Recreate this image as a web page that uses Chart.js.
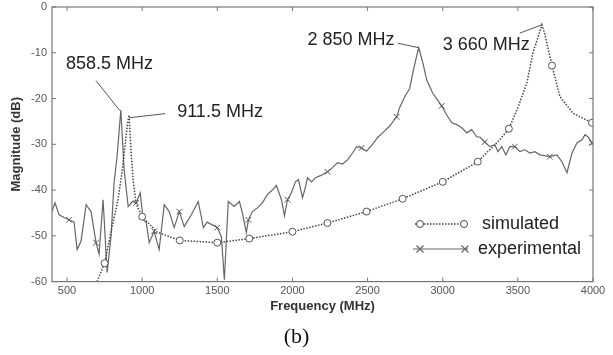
<!DOCTYPE html>
<html>
<head>
<meta charset="utf-8">
<script src="https://cdn.jsdelivr.net/npm/chart.js@4.4.1/dist/chart.umd.min.js"></script>
<style>
  html, body { margin: 0; padding: 0; background: #fff; }
</style>
</head>
<body>
<canvas id="grafico" width="613" height="355"></canvas>
<script>
// eixos
const xTicks = [500, 1000, 1500, 2000, 2500, 3000, 3500, 4000];
const yTicks = [0, -10, -20, -30, -40, -50, -60];

// simulado (pontilhado, círculos)
const simFreq = [700, 750, 800, 840, 870, 890, 905, 913, 925, 940, 960, 1000, 1100, 1250, 1500, 1713, 2000, 2233, 2493, 2733, 3000, 3233, 3380, 3440, 3500, 3560, 3600, 3630, 3660, 3680, 3693, 3727, 3780, 3867, 3993];
const simDb = [-60, -56, -48, -42, -35, -29, -25, -23.6, -31, -38, -43, -45.8, -49.2, -51, -51.5, -50.6, -49.1, -47.2, -44.7, -41.9, -38.2, -33.8, -29, -26.6, -22, -16.6, -10, -7, -3.9, -6, -7.9, -12.8, -19.6, -23.2, -25.3];
const simMarks = [750, 1000, 1250, 1500, 1713, 2000, 2233, 2493, 2733, 3000, 3233, 3440, 3727, 3993];

// experimental (linha cheia, cruzes)
const expFreq = [400, 420, 447, 480, 513, 547, 567, 593, 627, 660, 693, 713, 740, 760, 767, 793, 813, 833, 858, 880, 907, 935, 960, 987, 1007, 1027, 1047, 1080, 1113, 1147, 1180, 1213, 1247, 1280, 1327, 1373, 1407, 1433, 1460, 1500, 1527, 1547, 1573, 1613, 1647, 1667, 1693, 1707, 1733, 1767, 1800, 1833, 1867, 1893, 1927, 1947, 1967, 1993, 2020, 2040, 2067, 2087, 2100, 2127, 2153, 2190, 2233, 2267, 2300, 2333, 2367, 2400, 2427, 2460, 2493, 2533, 2567, 2600, 2647, 2693, 2713, 2747, 2780, 2810, 2840, 2870, 2893, 2933, 2993, 3027, 3060, 3093, 3127, 3160, 3193, 3227, 3247, 3280, 3313, 3347, 3367, 3393, 3420, 3447, 3480, 3513, 3547, 3580, 3613, 3647, 3713, 3760, 3793, 3827, 3860, 3893, 3927, 3947, 3967, 3993];
const expDb = [-44.7, -42.8, -45.4, -46, -46.5, -47, -53, -51.2, -43.2, -44.7, -51.5, -54, -42.1, -54, -58, -50, -38.4, -32.7, -22.5, -35.6, -43.6, -42.5, -42.8, -40.6, -46.5, -47.1, -51.5, -49, -53, -43.2, -44.7, -48.2, -44.7, -48, -45.4, -42.5, -48.2, -47, -47.5, -48.2, -50.2, -59.6, -42.5, -43.6, -42.5, -45, -49.3, -46.5, -44.7, -43.9, -42.8, -41, -40, -39, -42.1, -45.6, -42.1, -40.6, -38.2, -37.7, -41.7, -39.3, -37.3, -38.2, -37.3, -36.8, -36, -35.1, -34, -34.3, -33.4, -31.9, -30.5, -30.8, -31.5, -30, -28.5, -27.5, -26, -24, -22, -19.6, -17.8, -13, -8.9, -12.5, -15.9, -18.8, -21.6, -23.6, -25.3, -25.7, -26.4, -27.5, -26.8, -28.4, -28.4, -29.5, -30.5, -30.1, -31.6, -30.5, -32.3, -30.5, -30.5, -31.6, -31.2, -31.9, -31.6, -32.3, -32.7, -32.3, -33.8, -36.2, -31.9, -29.7, -29, -27.9, -28.4, -29.7];
const expMarks = [513, 693, 960, 1080, 1247, 1500, 1707, 1967, 2233, 2460, 2693, 2993, 3280, 3480, 3713, 3993];

// anotações dos picos: texto + linha de chamada (coordenadas em MHz / dB)
const notas = [
  { texto: "858.5 MHz", x: 493, y: -12.4, de: [693, -16.1], ate: [853, -22.7] },
  { texto: "911.5 MHz", x: 1233, y: -22.9, de: [1153, -23.3], ate: [913, -24.2] },
  { texto: "2 850 MHz", x: 2100, y: -7.2, de: [2700, -7.9], ate: [2840, -8.9] },
  { texto: "3 660 MHz", x: 3000, y: -8.3, de: [3513, -5.7], ate: [3660, -3.9] }
];

const toXY = (fs, vs) => fs.map((f, i) => ({ x: f, y: vs[i] }));

function desenhaCirculo(ctx, x, y) {
  ctx.beginPath();
  ctx.arc(x, y, 3.5, 0, Math.PI * 2);
  ctx.fillStyle = "#fff";
  ctx.fill();
  ctx.stroke();
}
function desenhaX(ctx, x, y) {
  const r = 3.5;
  ctx.beginPath();
  ctx.moveTo(x - r, y - r); ctx.lineTo(x + r, y + r);
  ctx.moveTo(x - r, y + r); ctx.lineTo(x + r, y - r);
  ctx.stroke();
}

const extras = {
  id: "extras",
  afterDraw(chart) {
    const { ctx, chartArea: a, scales: { x, y } } = chart;
    ctx.save();
    // caixa e ticks internos
    ctx.strokeStyle = "#777";
    ctx.lineWidth = 1.2;
    ctx.strokeRect(a.left, a.top, a.right - a.left, a.bottom - a.top);
    ctx.lineWidth = 1;
    ctx.beginPath();
    xTicks.forEach(v => {
      const px = x.getPixelForValue(v);
      ctx.moveTo(px, a.bottom); ctx.lineTo(px, a.bottom - 4);
      ctx.moveTo(px, a.top); ctx.lineTo(px, a.top + 4);
    });
    yTicks.forEach(v => {
      const py = y.getPixelForValue(v);
      ctx.moveTo(a.left, py); ctx.lineTo(a.left + 4, py);
      ctx.moveTo(a.right, py); ctx.lineTo(a.right - 4, py);
    });
    ctx.stroke();

    // anotações
    ctx.font = "18px 'Liberation Sans', Arial, sans-serif";
    ctx.fillStyle = "#222";
    ctx.textBaseline = "middle";
    ctx.strokeStyle = "#555";
    notas.forEach(n => {
      ctx.fillText(n.texto, x.getPixelForValue(n.x), y.getPixelForValue(n.y));
      ctx.beginPath();
      ctx.moveTo(x.getPixelForValue(n.de[0]), y.getPixelForValue(n.de[1]));
      ctx.lineTo(x.getPixelForValue(n.ate[0]), y.getPixelForValue(n.ate[1]));
      ctx.stroke();
    });

    // legenda
    const lx0 = 415, lx1 = 467, ly1 = 224, ly2 = 249;
    ctx.strokeStyle = "#444";
    ctx.lineWidth = 1.5;
    ctx.setLineDash([1.5, 1.5]);
    ctx.beginPath(); ctx.moveTo(lx0, ly1); ctx.lineTo(lx1, ly1); ctx.stroke();
    ctx.setLineDash([]);
    ctx.lineWidth = 1;
    desenhaCirculo(ctx, lx0 + 5, ly1);
    desenhaCirculo(ctx, lx1 - 3, ly1);
    ctx.strokeStyle = "#666";
    ctx.lineWidth = 1.2;
    ctx.beginPath(); ctx.moveTo(lx0 - 2, ly2); ctx.lineTo(lx1 + 1, ly2); ctx.stroke();
    desenhaX(ctx, lx0 + 5, ly2);
    desenhaX(ctx, lx1 - 2, ly2);
    ctx.fillStyle = "#222";
    ctx.fillText("simulated", 482, ly1);
    ctx.fillText("experimental", 478, ly2);
    ctx.restore();
  }
};

new Chart(document.getElementById("grafico"), {
  type: "line",
  data: {
    datasets: [
      {
        label: "simulated",
        data: toXY(simFreq, simDb),
        borderColor: "#444",
        borderWidth: 1.5,
        borderDash: [1.5, 1.5],
        pointStyle: "circle",
        pointRadius: c => simMarks.includes(c.raw && c.raw.x) ? 3.5 : 0,
        pointBorderColor: "#555",
        pointBackgroundColor: "#fff",
        pointBorderWidth: 1,
        tension: 0
      },
      {
        label: "experimental",
        data: toXY(expFreq, expDb),
        borderColor: "#666",
        borderWidth: 1.2,
        pointStyle: "crossRot",
        pointRadius: c => expMarks.includes(c.raw && c.raw.x) ? 4 : 0,
        pointBorderColor: "#555",
        pointBorderWidth: 1,
        tension: 0
      }
    ]
  },
  options: {
    responsive: false,
    animation: false,
    layout: { padding: { left: 0, right: 20, top: 7, bottom: 0 } },
    plugins: {
      legend: { display: false },
      tooltip: { enabled: false },
      title: {
        display: true,
        position: "bottom",
        text: "(b)",
        color: "#111",
        font: { family: "'Liberation Serif', 'Times New Roman', serif", size: 22, weight: "normal" },
        padding: { top: 2, bottom: 5 }
      }
    },
    scales: {
      x: {
        type: "linear",
        min: 400,
        max: 4000,
        grid: { display: false, drawTicks: false },
        border: { display: false },
        afterBuildTicks: s => { s.ticks = xTicks.map(v => ({ value: v })); },
        afterFit: s => { s.height = 40; s.paddingLeft = 0; s.paddingRight = 0; },
        ticks: {
          color: "#555", padding: 3, maxRotation: 0,
          font: { family: "'Liberation Sans', Arial, sans-serif", size: 11 },
          callback: v => String(v)
        },
        title: {
          display: true,
          text: "Frequency (MHz)",
          color: "#333",
          font: { family: "'Liberation Sans', Arial, sans-serif", size: 13, weight: "bold" },
          padding: { top: 0, bottom: 7 }
        }
      },
      y: {
        min: -60,
        max: 0,
        grid: { display: false, drawTicks: false },
        border: { display: false },
        afterBuildTicks: s => { s.ticks = yTicks.map(v => ({ value: v })); },
        afterFit: s => { s.width = 52; s.paddingTop = 0; s.paddingBottom = 0; },
        ticks: {
          color: "#555", padding: 5,
          font: { family: "'Liberation Sans', Arial, sans-serif", size: 11 },
          callback: v => String(v)
        },
        title: {
          display: true,
          text: "Magnitude (dB)",
          color: "#333",
          font: { family: "'Liberation Sans', Arial, sans-serif", size: 13, weight: "bold" },
          padding: { top: 9, bottom: 0 }
        }
      }
    }
  },
  plugins: [extras]
});
</script>
</body>
</html>
